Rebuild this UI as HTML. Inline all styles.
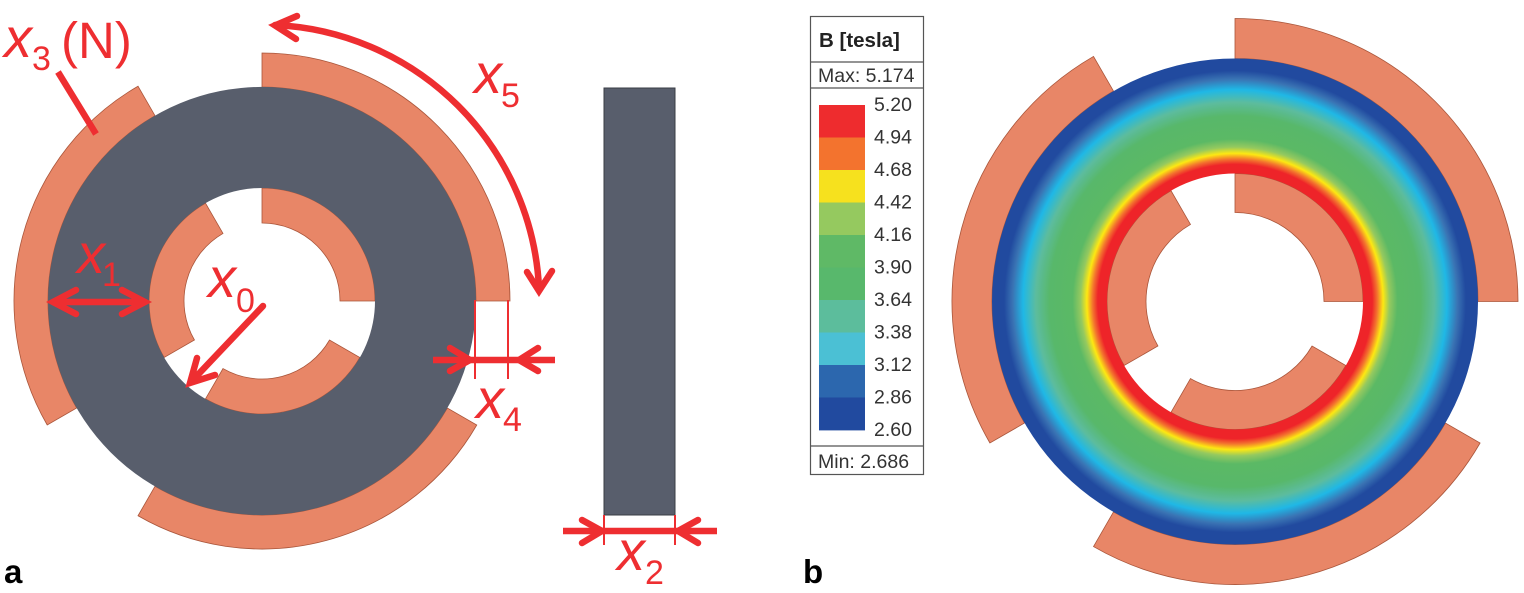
<!DOCTYPE html>
<html>
<head>
<meta charset="utf-8">
<style>
html,body{margin:0;padding:0;background:#fff;width:1524px;height:593px;overflow:hidden}
svg{display:block}
text{font-family:"Liberation Sans",sans-serif}
.dim{fill:#ee2e31;font-size:56px;font-style:italic}
.sub{fill:#ee2e31;font-size:34px}
.ar{fill:none;stroke:#ee2e31;stroke-width:6.5;stroke-linecap:round;stroke-linejoin:miter}
.bt{stroke-linecap:butt}
.th{fill:none;stroke:#ee2e31;stroke-width:2}
.lg{fill:#333;font-size:19.5px}
</style>
</head>
<body>
<svg id="figure" width="1524" height="593" viewBox="0 0 1524 593" xmlns="http://www.w3.org/2000/svg">
  <defs>
    <radialGradient id="fieldGrad" gradientUnits="userSpaceOnUse" cx="1235" cy="301.5" r="243"></radialGradient>
  </defs>
  <g id="panelA"></g>
  <rect x="604" y="88" width="71" height="427" fill="#585e6c" stroke="#3a3d45" stroke-width="1"/>
  <g id="panelB"></g>

  <g>
    <path class="ar bt" d="M58 72L96 134"/>
    <path class="ar" d="M275 25A277 277 0 0 1 539 288"/>
    <path class="ar" d="M297 16L275 25.500L296 39"/>
    <path class="ar" d="M527 272L539 291L552 271"/>
    <path class="ar" d="M53 302H145M76 290L53 302L76 314M122 290L145 302L122 314"/>
    <path class="ar" d="M263 306L191 382M197 358L190 383L215 375"/>
    <path class="th" d="M475 300V379M508 300V379"/>
    <path class="ar bt" d="M433 360H555"/>
    <path class="ar" d="M450 348L470 360L450 371"/>
    <path class="ar" d="M538 348L519 360L538 371"/>
    <path class="th" d="M604 515V545M675 515V545"/>
    <path class="ar bt" d="M563 531H717"/>
    <path class="ar" d="M582 520L602 531L582 543"/>
    <path class="ar" d="M698 520L678 531L698 543"/>

    <text class="dim" x="4" y="57">x</text>
    <text class="sub" x="32" y="70">3</text>
    <text x="61" y="58" fill="#ee2e31" font-size="51">(N)</text>
    <text class="dim" x="474" y="93">x</text>
    <text class="sub" x="501" y="107">5</text>
    <text class="dim" x="77" y="273">x</text>
    <text class="sub" x="102" y="286">1</text>
    <text class="dim" x="208" y="297">x</text>
    <text class="sub" x="236" y="312">0</text>
    <text class="dim" x="476" y="418">x</text>
    <text class="sub" x="503" y="431">4</text>
    <text class="dim" x="617" y="570">x</text>
    <text class="sub" x="645" y="584">2</text>
  </g>

  <text x="4" y="583" font-size="33" font-weight="bold" fill="#000">a</text>
  <text x="803" y="583" font-size="33" font-weight="bold" fill="#000">b</text>

  <g id="legend">
    <rect x="810.5" y="16.5" width="113" height="458" fill="#fff" stroke="#555" stroke-width="1.2"/>
    <path d="M811 62H923M811 88H923M811 446H923" stroke="#555" stroke-width="1.2" fill="none"/>
    <text x="819" y="47" font-size="20.500" font-weight="bold" fill="#222">B [tesla]</text>
    <text x="818" y="82" font-size="19.5" fill="#333">Max: 5.174</text>
    <text x="818" y="468" font-size="19.5" fill="#333">Min: 2.686</text>
  </g>
</svg>
<script>
// Colour scale: band edges from the legend, top to bottom
const legendTicks = [5.20, 4.94, 4.68, 4.42, 4.16, 3.90, 3.64, 3.38, 3.12, 2.86, 2.60];
const bandColours = ['#ee2c2e', '#f3732e', '#f6e11e', '#95c95f', '#5fb966', '#58b86c', '#5cbd9c', '#4bc0d4', '#2c67ae', '#214a9f'];
// The continuous field map renders the same scale with a more saturated yellow and cyan
const fieldColours = ['#ee2429', '#f3732e', '#fde812', '#95c95f', '#5bb965', '#58b86a', '#5cbc9e', '#1fb8e6', '#3a74b4', '#214a9f'];
// Field profile read radially through the rotor: share of the ring (0 = bore, 1 = outer rim) and B in tesla
const fieldRingShare = [0, 0.08, 0.125, 0.175, 0.23, 0.30, 0.50, 0.62, 0.73, 0.82, 0.895, 1];
const fieldTesla = [5.174, 5.07, 4.81, 4.55, 4.29, 4.03, 3.77, 3.51, 3.25, 2.99, 2.73, 2.70];
// Magnet arcs: start angle of each magnet, degrees counter-clockwise from +x
const magnetStartDeg = [0, 120, 240];
const magnetSpanDeg = [90, 90, 90];

const NS = 'http://www.w3.org/2000/svg';

const legendTop = 105, legendBottom = 430;
function legendY(v) {
  const hi = legendTicks[0], lo = legendTicks[legendTicks.length - 1];
  return legendTop + (hi - v) / (hi - lo) * (legendBottom - legendTop);
}
function hexToRgb(h) {
  return [1, 3, 5].map(function (i) { return parseInt(h.substr(i, 2), 16); });
}
function colourFor(b) {
  const mids = fieldColours.map(function (c, i) { return (legendTicks[i] + legendTicks[i + 1]) / 2; });
  if (b >= mids[0]) return fieldColours[0];
  if (b <= mids[mids.length - 1]) return fieldColours[fieldColours.length - 1];
  for (let i = 0; i < mids.length - 1; i++) {
    if (b <= mids[i] && b >= mids[i + 1]) {
      const t = (mids[i] - b) / (mids[i] - mids[i + 1]);
      const a = hexToRgb(fieldColours[i]), c = hexToRgb(fieldColours[i + 1]);
      return 'rgb(' + a.map(function (v, k) { return Math.round(v + (c[k] - v) * t); }).join(',') + ')';
    }
  }
  return fieldColours[0];
}
function polar(cx, cy, r, deg) {
  const a = deg * Math.PI / 180;
  return [(cx + r * Math.cos(a)).toFixed(2), (cy - r * Math.sin(a)).toFixed(2)];
}
function sectorPath(cx, cy, r0, r1, start, span) {
  const end = start + span;
  const p1 = polar(cx, cy, r1, start), p2 = polar(cx, cy, r1, end);
  const p3 = polar(cx, cy, r0, end), p4 = polar(cx, cy, r0, start);
  return 'M' + p1 + 'A' + r1 + ' ' + r1 + ' 0 0 0 ' + p2 + 'L' + p3 + 'A' + r0 + ' ' + r0 + ' 0 0 1 ' + p4 + 'Z';
}
function ringPath(cx, cy, r0, r1) {
  return 'M' + (cx - r1) + ' ' + cy + 'a' + r1 + ' ' + r1 + ' 0 1 0 ' + (2 * r1) + ' 0a' + r1 + ' ' + r1 + ' 0 1 0 ' + (-2 * r1) + ' 0Z' +
    'M' + (cx - r0) + ' ' + cy + 'a' + r0 + ' ' + r0 + ' 0 1 0 ' + (2 * r0) + ' 0a' + r0 + ' ' + r0 + ' 0 1 0 ' + (-2 * r0) + ' 0Z';
}
function drawMagnets(group, cx, cy, innerA, innerB, outerA, outerB) {
  magnetStartDeg.forEach(function (start, i) {
    const outer = document.createElementNS(NS, 'path');
    
    
    outer.setAttribute('d', sectorPath(cx, cy, outerA, outerB, start, magnetSpanDeg[i]));
    outer.setAttribute('fill', '#e88667');
    outer.setAttribute('stroke', '#a9553a');
    outer.setAttribute('stroke-width', '0.8');
    group.appendChild(outer);
    const inner = document.createElementNS(NS, 'path');
    
    
    inner.setAttribute('d', sectorPath(cx, cy, innerA, innerB, start, magnetSpanDeg[i]));
    inner.setAttribute('fill', '#e88667');
    inner.setAttribute('stroke', '#a9553a');
    inner.setAttribute('stroke-width', '0.8');
    group.appendChild(inner);
  });
}
function drawRing(group, cx, cy, r0, r1, fill, name) {
  const ring = document.createElementNS(NS, 'path');
  
  
  ring.setAttribute('d', ringPath(cx, cy, r0, r1));
  ring.setAttribute('fill', fill);
  ring.setAttribute('fill-rule', 'evenodd');
  group.appendChild(ring);
}

// Panel a
const panelA = document.getElementById('panelA');
drawMagnets(panelA, 262, 301, 78, 113, 214, 248);
drawRing(panelA, 262, 301, 113, 214, '#585e6c', 'rotor-ring');

// Panel b: gradient stops come from the radial field profile
const boreRadius = 128, rimRadius = 243;
const grad = document.getElementById('fieldGrad');
fieldRingShare.forEach(function (share, i) {
  const stop = document.createElementNS(NS, 'stop');
  const r = boreRadius + share * (rimRadius - boreRadius);
  stop.setAttribute('offset', (r / rimRadius).toFixed(4));
  stop.setAttribute('stop-color', colourFor(fieldTesla[i]));
  grad.appendChild(stop);
});
const panelB = document.getElementById('panelB');
drawMagnets(panelB, 1235, 301.5, 89, 128, 243, 283);
drawRing(panelB, 1235, 301.5, boreRadius, rimRadius, 'url(#fieldGrad)', 'field-ring');

// Legend
const legend = document.getElementById('legend');
bandColours.forEach(function (colour, i) {
  const y0 = legendY(legendTicks[i]), y1 = legendY(legendTicks[i + 1]);
  const band = document.createElementNS(NS, 'rect');
  
  
  band.setAttribute('x', 819);
  band.setAttribute('y', y0.toFixed(2));
  band.setAttribute('width', 46);
  band.setAttribute('height', (y1 - y0 + 0.4).toFixed(2));
  band.setAttribute('fill', colour);
  legend.appendChild(band);
});
legendTicks.forEach(function (v) {
  const t = document.createElementNS(NS, 'text');
  
  
  t.setAttribute('class', 'lg');
  t.setAttribute('x', 874);
  t.setAttribute('y', (legendY(v) + 6).toFixed(2));
  t.textContent = v.toFixed(2);
  legend.appendChild(t);
});
</script>
</body>
</html>
